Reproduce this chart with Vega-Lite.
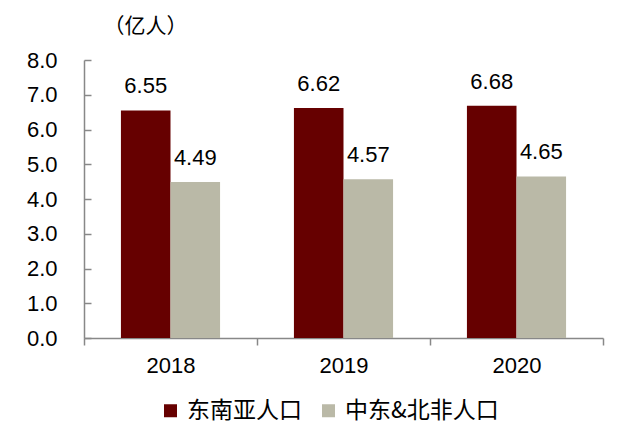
{
  "$schema": "https://vega.github.io/schema/vega-lite/v6.json",
  "width": 519,
  "height": 278,
  "autosize": {"type": "none"},
  "padding": {"left": 84, "top": 60, "right": 37, "bottom": 93},
  "background": "white",
  "config": {
    "view": {"stroke": null},
    "font": "Liberation Sans"
  },
  "data": {
    "values": [
      {"year": "2018", "series": "东南亚人口", "value": 6.55},
      {"year": "2018", "series": "中东&北非人口", "value": 4.49},
      {"year": "2019", "series": "东南亚人口", "value": 6.62},
      {"year": "2019", "series": "中东&北非人口", "value": 4.57},
      {"year": "2020", "series": "东南亚人口", "value": 6.68},
      {"year": "2020", "series": "中东&北非人口", "value": 4.65}
    ]
  },
  "encoding": {
    "x": {
      "field": "year", "type": "nominal",
      "scale": {"paddingInner": 0, "paddingOuter": 0},
      "axis": {
        "title": null, "labelAngle": 0, "tickBand": "extent",
        "domainColor": "#888888", "domainWidth": 1.5,
        "tickColor": "#888888", "tickWidth": 1.5, "tickSize": 7,
        "labelFont": "Liberation Sans", "labelFontSize": 22, "labelColor": "#000000",
        "labelPadding": 10
      }
    },
    "xOffset": {
      "field": "series", "type": "nominal",
      "sort": ["东南亚人口", "中东&北非人口"],
      "scale": {"paddingInner": 0, "paddingOuter": 0.745}
    },
    "y": {
      "field": "value", "type": "quantitative",
      "scale": {"domain": [0, 8], "nice": false, "zero": true},
      "axis": {
        "title": "（亿人）", "titleAngle": 0, "titleAlign": "left", "titleBaseline": "alphabetic",
        "titleX": 19, "titleY": -28, "titleFont": "Noto Sans CJK SC", "titleFontSize": 21,
        "titleFontWeight": "normal", "titleColor": "#000000",
        "values": [0, 1, 2, 3, 4, 5, 6, 7, 8], "format": ".1f",
        "grid": false,
        "domainColor": "#888888", "domainWidth": 1.5,
        "tickColor": "#888888", "tickWidth": 1.5, "tickSize": -7,
        "labelFont": "Liberation Sans", "labelFontSize": 22, "labelColor": "#000000",
        "labelPadding": 34
      }
    },
    "color": {
      "field": "series", "type": "nominal",
      "scale": {"domain": ["东南亚人口", "中东&北非人口"], "range": ["#660000", "#BAB9A7"]},
      "legend": {
        "title": null, "orient": "none", "direction": "horizontal",
        "legendX": 75, "legendY": 339,
        "symbolType": "square", "symbolSize": 169, "symbolStrokeWidth": 0,
        "labelFont": "Noto Sans CJK SC", "labelFontSize": 23, "labelColor": "#000000",
        "labelOffset": 5, "columnPadding": 15
      }
    }
  },
  "layer": [
    {"mark": {"type": "bar"}},
    {
      "mark": {"type": "text", "baseline": "alphabetic", "dy": -17, "fontSize": 22, "font": "Liberation Sans", "color": "#000000"},
      "encoding": {"text": {"field": "value", "type": "quantitative", "format": ".2f"}, "color": {"value": "#000000"}}
    }
  ]
}
